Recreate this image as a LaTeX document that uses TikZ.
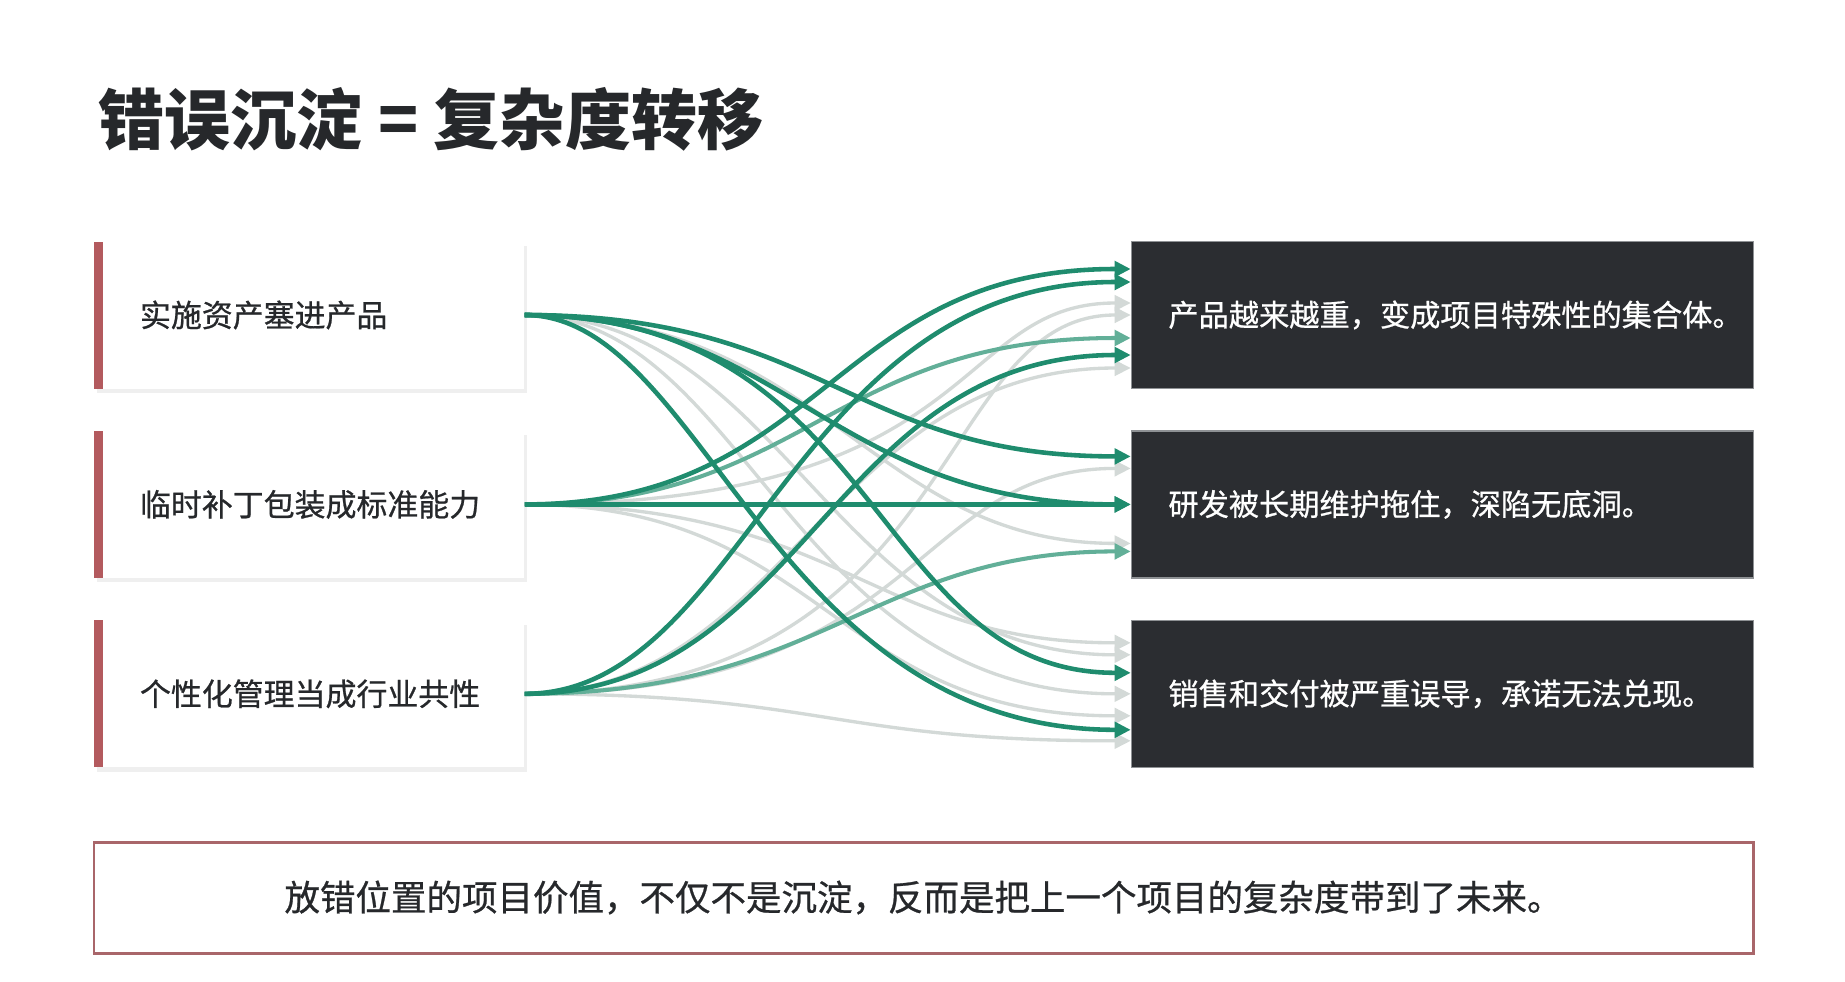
\documentclass[tikz,border=0pt]{standalone}
\usepackage{fontspec}
\setmainfont{Noto Sans CJK SC}
\newfontfamily\boxfont{Noto Sans CJK SC}[FakeBold=0.7]
\usepackage{tikz}
\usetikzlibrary{positioning}
\usetikzlibrary{arrows.meta}
\usetikzlibrary{shadows}
\usepackage{xcolor}

\definecolor{inkdark}{HTML}{26282B}
\definecolor{barred}{HTML}{B35A5E}
\definecolor{panel}{HTML}{2B2D31}
\definecolor{panelrule}{HTML}{8E9194}
\definecolor{flowgreen}{HTML}{1F8C6E}
\definecolor{flowmid}{HTML}{62AF98}
\definecolor{flowgray}{HTML}{D3D9D7}
\definecolor{framered}{HTML}{A9666A}

\tikzset{
  causebox/.style={fill=white, minimum width=4.30cm, minimum height=1.47cm,
    text width=4.30cm, inner xsep=0pt, align=left, text=inkdark,
    font=\boxfont\fontsize{8.8}{10}\selectfont,
    execute at begin node={\noindent\hspace*{0.46cm}},
    drop shadow={shadow xshift=0.025cm, shadow yshift=-0.045cm, opacity=0.12},
    path picture={\fill[barred] (path picture bounding box.north west)
      rectangle ([xshift=0.09cm]path picture bounding box.south west);}},
  effectbox/.style={fill=panel, draw=panelrule, line width=0.4pt,
    minimum width=6.22cm, minimum height=1.47cm, text width=6.22cm,
    inner xsep=0pt, align=left, text=white,
    font=\boxfont\fontsize{8.6}{10}\selectfont,
    execute at begin node={\noindent\hspace*{0.37cm}}},
  notebox/.style={fill=white, draw=framered, line width=0.85pt,
    minimum width=16.59cm, minimum height=1.11cm, text=inkdark,
    font=\boxfont\fontsize{10.1}{12}\selectfont},
  tipshape/.style={-{Triangle[length=4.6pt,width=4.4pt]}},
  flowdark/.style={tipshape, draw=flowgreen, line width=1.3pt},
  flowhalf/.style={tipshape, draw=flowmid, line width=1.15pt},
  flowfaint/.style={tipshape, draw=flowgray, line width=0.95pt}
}

\begin{document}
\begin{tikzpicture}
\useasboundingbox (0,0) rectangle (18.45,-9.81);
\fill[white] (0,0) rectangle (18.45,-9.81);

\node[anchor=west, inner sep=0pt, text=inkdark,
  font=\fontsize{18.8}{22}\selectfont\bfseries] (title) at (0.98,-1.19)
  {错误沉淀 = 复杂度转移};

% left column: causes
\node[causebox] (l1) at (3.09,-3.15) {实施资产塞进产品};
\node[causebox, below=0.41cm of l1] (l2) {临时补丁包装成标准能力};
\node[causebox, below=0.41cm of l2] (l3) {个性化管理当成行业共性};

% right column: effects
\node[effectbox, right=6.06cm of l1] (r1) {产品越来越重，变成项目特殊性的集合体。};
\node[effectbox, right=6.06cm of l2] (r2) {研发被长期维护拖住，深陷无底洞。};
\node[effectbox, right=6.06cm of l3] (r3) {销售和交付被严重误导，承诺无法兑现。};

% faint flows
\draw[flowfaint] (l1.east) .. controls +(3.0,0) and +(-2.6,0) .. ([yshift=-0.39cm]r2.west);
\draw[flowfaint] (l1.east) .. controls +(2.6,0) and +(-3.0,0) .. ([yshift=0.39cm]r3.west);
\draw[flowfaint] (l1.east) .. controls +(2.2,0) and +(-3.4,0) .. (r3.west);
\draw[flowfaint] (l2.east) .. controls +(3.2,0) and +(-2.6,0) .. ([yshift=0.51cm]r3.west);
\draw[flowfaint] (l2.east) .. controls +(3.0,0) and +(-3.0,0) .. ([yshift=-0.22cm]r3.west);
\draw[flowfaint] (l2.east) .. controls +(4.6,0) and +(-1.8,0) .. ([yshift=0.12cm]r1.west);
\draw[flowfaint] (l3.east) .. controls +(3.0,0) and +(-3.0,0) .. ([yshift=-0.47cm]r3.west);
\draw[flowfaint] (l3.east) .. controls +(4.4,0) and +(-2.0,0) .. (r1.west);
\draw[flowfaint] (l3.east) .. controls +(2.6,0) and +(-3.0,0) .. ([yshift=-0.53cm]r1.west);
\draw[flowfaint] (l3.east) .. controls +(4.0,0) and +(-2.2,0) .. ([yshift=0.36cm]r2.west);

% half-tone flows
\draw[flowhalf] (l2.east) .. controls +(2.8,0) and +(-3.0,0) .. ([yshift=-0.23cm]r1.west);
\draw[flowhalf] (l3.east) .. controls +(3.0,0) and +(-2.6,0) .. ([yshift=-0.47cm]r2.west);

% strong flows
\draw[flowdark] (l1.east) .. controls +(3.0,0) and +(-2.8,0) .. ([yshift=0.48cm]r2.west);
\draw[flowdark] (l1.east) .. controls +(2.6,0) and +(-3.0,0) .. (r2.west);
\draw[flowdark] (l1.east) .. controls +(3.6,0) and +(-2.6,0) .. ([yshift=0.21cm]r3.west);
\draw[flowdark] (l1.east) .. controls +(1.8,0) and +(-3.6,0) .. ([yshift=-0.36cm]r3.west);
\draw[flowdark] (l2.east) .. controls +(3.0,0) and +(-3.0,0) .. ([yshift=0.46cm]r1.west);
\draw[flowdark] (l2.east) -- (r2.west);
\draw[flowdark] (l3.east) .. controls +(2.2,0) and +(-3.4,0) .. ([yshift=0.33cm]r1.west);
\draw[flowdark] (l3.east) .. controls +(2.8,0) and +(-3.0,0) .. ([yshift=-0.40cm]r1.west);

% bottom note
\node[notebox] (note) at (9.235,-8.975)
  {放错位置的项目价值，不仅不是沉淀，反而是把上一个项目的复杂度带到了未来。};
\end{tikzpicture}
\end{document}
